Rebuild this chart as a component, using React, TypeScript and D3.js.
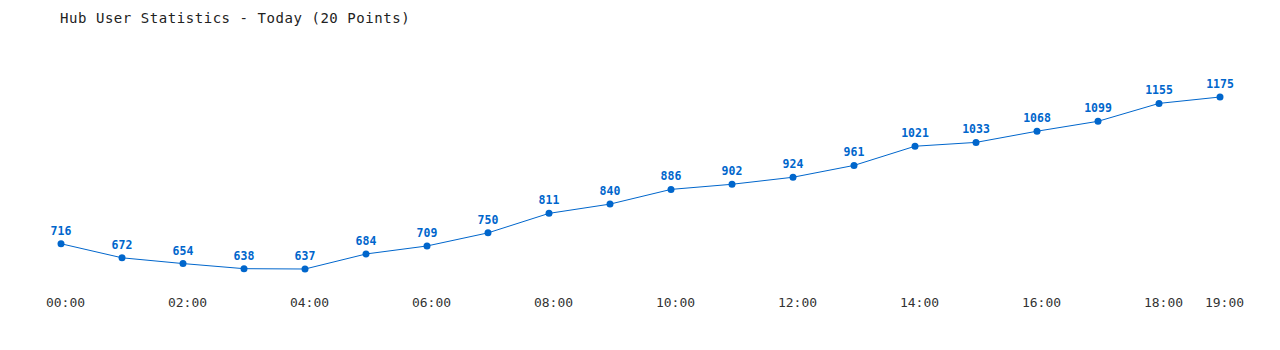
import React from "react";
import * as d3 from "d3";

const hours = [
  "00:00", "01:00", "02:00", "03:00", "04:00", "05:00", "06:00", "07:00", "08:00", "09:00",
  "10:00", "11:00", "12:00", "13:00", "14:00", "15:00", "16:00", "17:00", "18:00", "19:00",
];
const users = [716, 672, 654, 638, 637, 684, 709, 750, 811, 840, 886, 902, 924, 961, 1021, 1033, 1068, 1099, 1155, 1175];
const tickLabels = ["00:00", "02:00", "04:00", "06:00", "08:00", "10:00", "12:00", "14:00", "16:00", "18:00", "19:00"];
const title = "Hub User Statistics - Today (20 Points)";

const W = 1280;
const H = 350;
const BLUE = "#0066cc";
const MONO = "'DejaVu Sans Mono', 'Liberation Mono', monospace";

export default function App() {
  const x = d3.scaleLinear().domain([0, hours.length - 1]).range([61, 1220]);
  const y = d3.scaleLinear().domain([637, 1175]).range([269, 97]);
  const line = d3
    .line<number>()
    .x((_, i) => x(i))
    .y((d) => y(d));

  return (
    <svg
      width={W}
      height={H}
      style={{ position: "absolute", left: 0, top: 0, background: "#fff" }}
    >
      <text x={60} y={23} fontFamily={MONO} fontSize={14} letterSpacing={0.55} fill="#222">
        {title}
      </text>
      <path d={line(users) || ""} fill="none" stroke={BLUE} strokeWidth={1} />
      {users.map((v, i) => (
        <g key={i}>
          <circle cx={x(i)} cy={y(v)} r={3.5} fill={BLUE} />
          <text
            x={x(i)}
            y={y(v) - 9}
            textAnchor="middle"
            fontFamily={MONO}
            fontSize={11.5}
            fontWeight="bold"
            fill={BLUE}
          >
            {v}
          </text>
        </g>
      ))}
      {tickLabels.map((t) => {
        const i = hours.indexOf(t);
        return (
          <text
            key={t}
            x={x(i) + 4.5}
            y={307}
            textAnchor="middle"
            fontFamily={MONO}
            fontSize={13}
            fill="#333"
          >
            {t}
          </text>
        );
      })}
    </svg>
  );
}
